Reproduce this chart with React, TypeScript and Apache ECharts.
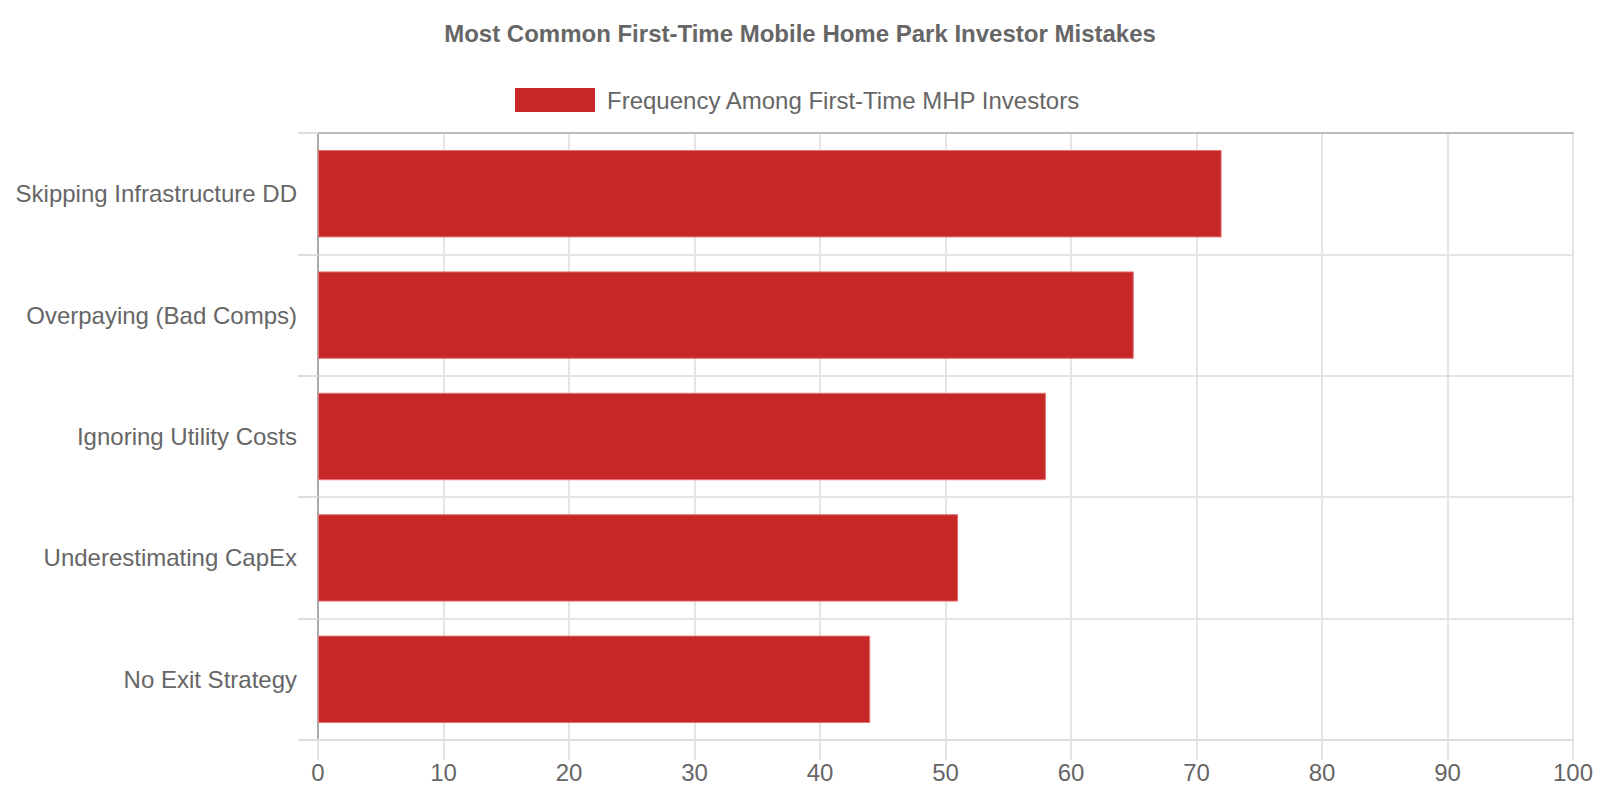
import React, { useEffect, useRef } from "react";
import * as echarts from "echarts";

const titleText = "Most Common First-Time Mobile Home Park Investor Mistakes";
const seriesName = "Frequency Among First-Time MHP Investors";
const categories = [
  "Skipping Infrastructure DD",
  "Overpaying (Bad Comps)",
  "Ignoring Utility Costs",
  "Underestimating CapEx",
  "No Exit Strategy",
];
const frequency = [72, 65, 58, 51, 44];
const xMin = 0;
const xMax = 100;
const xInterval = 10;

const FONT = '"Liberation Sans", Arial, Helvetica, sans-serif';

export default function App() {
  const ref = useRef<HTMLDivElement>(null);
  useEffect(() => {
    if (!ref.current) return;
    const chart = echarts.init(ref.current, undefined, { renderer: "svg" });
    chart.setOption({
      animation: false,
      backgroundColor: "#ffffff",
      textStyle: { fontFamily: FONT },
      title: {
        text: titleText,
        left: "center",
        top: 21,
        padding: 0,
        textStyle: { fontFamily: FONT, fontSize: 24, fontWeight: "bold", color: "#666666" },
      },
      legend: {
        data: [seriesName],
        left: 515,
        top: 88,
        padding: 0,
        itemWidth: 80,
        itemHeight: 24,
        icon: "rect",
        itemStyle: { borderWidth: 0 },
        textStyle: { fontFamily: FONT, fontSize: 24, color: "#666666", padding: [0, 0, 0, 7] },
      },
      grid: { left: 318, right: 27, top: 133, bottom: 60, containLabel: false },
      xAxis: [
        {
          type: "value",
          min: xMin,
          max: xMax,
          interval: xInterval,
          position: "bottom",
          axisLine: { show: true, lineStyle: { color: "#dddddd", width: 2 } },
          axisTick: { show: true, length: 20, lineStyle: { color: "#e2e2e2", width: 2 } },
          axisLabel: { fontFamily: FONT, fontSize: 24, color: "#666666", margin: 20 },
          splitLine: { show: true, lineStyle: { color: "#e4e4e4", width: 2 } },
        },
        {
          type: "value",
          min: xMin,
          max: xMax,
          interval: xInterval,
          position: "top",
          axisLine: { show: true, lineStyle: { color: "#bbbbbb", width: 2 } },
          axisTick: { show: false },
          axisLabel: { show: false },
          splitLine: { show: false },
        },
      ],
      yAxis: {
        type: "category",
        data: categories,
        inverse: true,
        axisLine: { show: true, lineStyle: { color: "#aaaaaa", width: 2 } },
        axisTick: { show: true, length: 20, lineStyle: { color: "#dddddd", width: 2 } },
        axisLabel: { fontFamily: FONT, fontSize: 24, color: "#666666", margin: 21 },
        splitLine: { show: true, lineStyle: { color: "#e4e4e4", width: 2 } },
      },
      series: [
        {
          name: seriesName,
          type: "bar",
          xAxisIndex: 0,
          data: frequency,
          barWidth: "72%",
          itemStyle: { color: "#c62828", borderColor: "#e57373", borderWidth: 1 },
        },
      ],
    });
    return () => chart.dispose();
  }, []);
  return (
    <div
      ref={ref}
      style={{ position: "absolute", left: 0, top: 0, width: 1600, height: 800 }}
    />
  );
}
